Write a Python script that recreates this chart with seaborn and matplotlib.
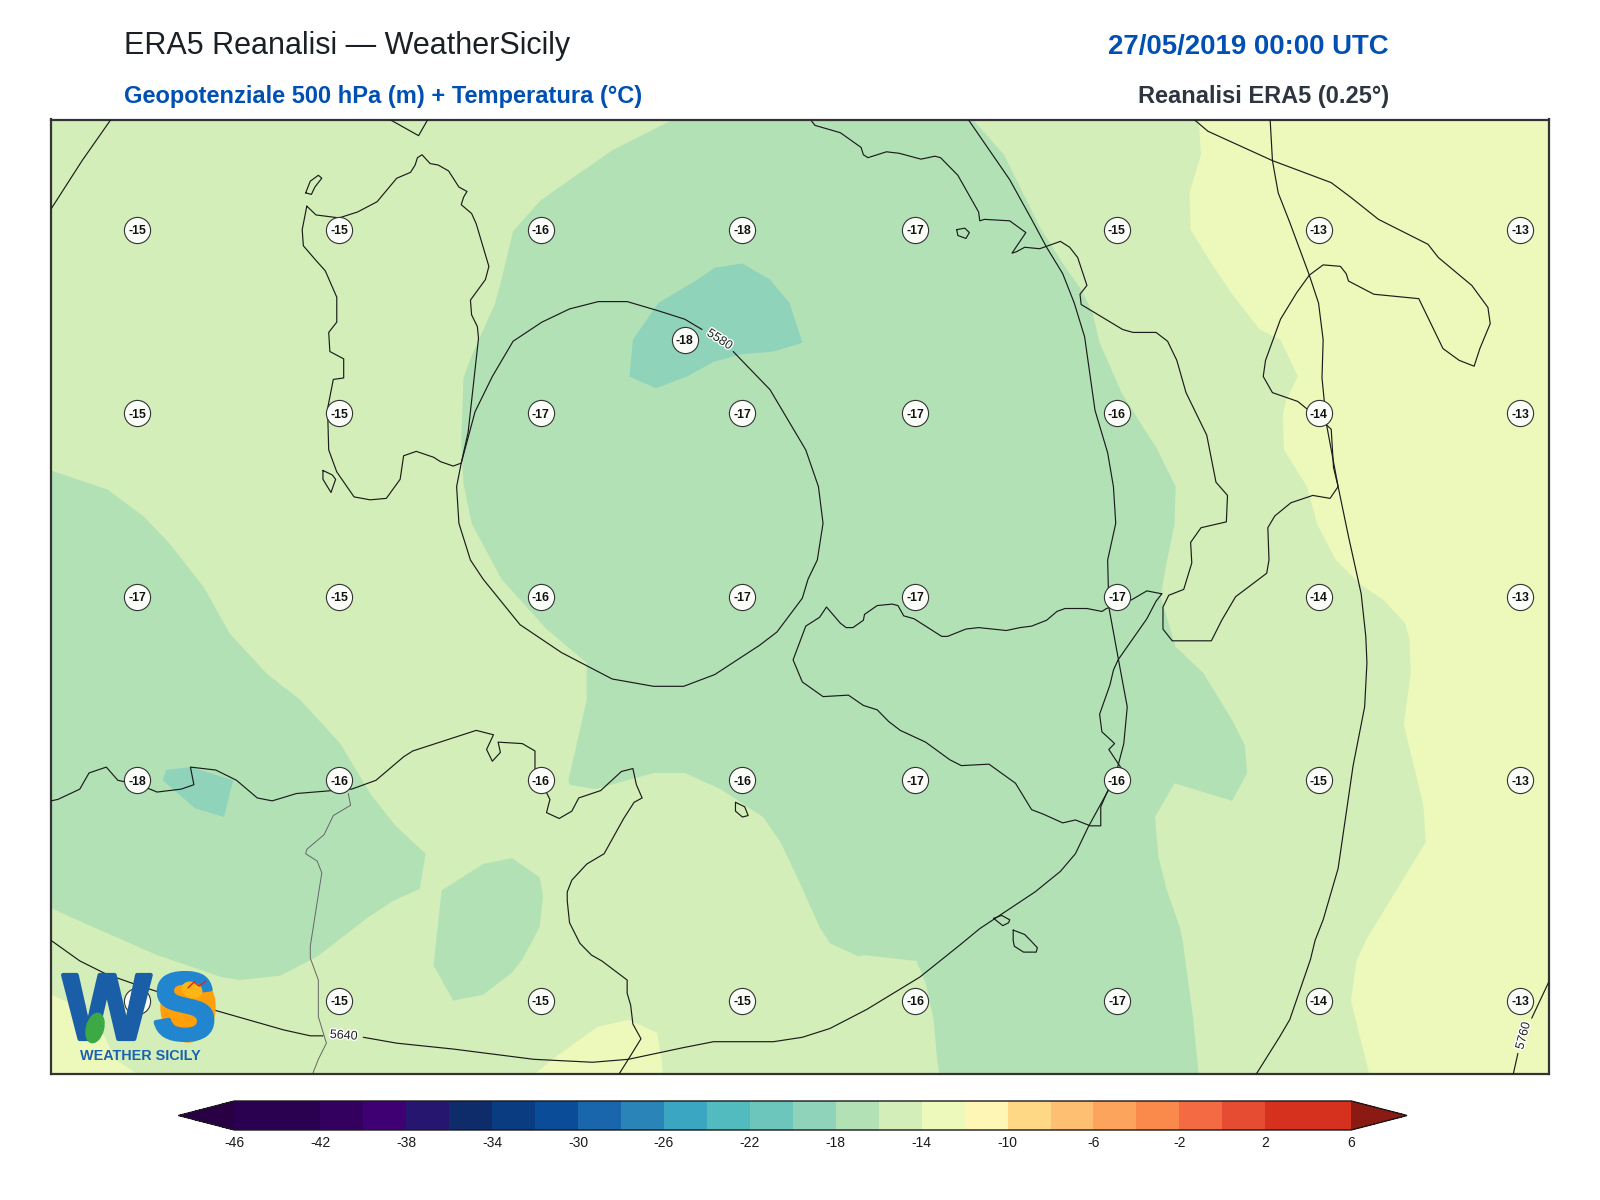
"""ERA5 500 hPa geopotential + temperature map over Sicily, rebuilt with seaborn."""
from __future__ import annotations

import matplotlib
matplotlib.use("Agg")
import matplotlib.patheffects as pe
import matplotlib.pyplot as plt
import pandas as pd
import seaborn as sns
from matplotlib.colorbar import ColorbarBase
from matplotlib.colors import BoundaryNorm, ListedColormap
from matplotlib.patches import Ellipse

# ───────────────────────── colour scale ─────────────────────
LEVELS = list(range(-46, 8, 2))
TICKS = list(range(-46, 10, 4))
BAND_COLORS = [
    "#2a0050", "#2a0050", "#330060", "#3f0073", "#271670", "#0e2c6a", "#0a3c82",
    "#0a4c98", "#1a66ac", "#2a84b8", "#3aa6c2", "#52bbc0", "#6cc6bc", "#8fd3bb",
    "#b2e1b6", "#d3eeb8", "#edf8bb", "#fef6b5", "#fed884", "#febf72", "#fda45c",
    "#fa894c", "#f46b43", "#e64c32", "#d6301f", "#d6301f",
]
UNDER_COLOR = "#2a0045"
OVER_COLOR = "#8b1a14"

# ───────────────────────── grid-point temperatures ──────────
POINT_LONS = [6.75, 8.5, 10.25, 12, 13.5, 15.25, 17, 18.75]
POINT_LATS = [40.75, 39.5, 38.25, 37, 35.5]
T_ROW_1 = [-15, -15, -16, -18, -17, -15, -13, -13]
T_ROW_2 = [-15, -15, -17, -17, -17, -16, -14, -13]
T_ROW_3 = [-17, -15, -16, -17, -17, -17, -14, -13]
T_ROW_4 = [-18, -16, -16, -16, -17, -16, -15, -13]
T_ROW_5 = [-15, -15, -15, -15, -16, -17, -14, -13]
EXTRA_POINT = (11.5, 40.0, -18)

# ───────────────────────── temperature bands (lon, lat) ─────
BAND_16_18_CENTRE = [
    (11.40, 41.5), (10.87, 41.29), (10.25, 40.95), (10.01, 40.74), (9.91, 40.41),
    (9.85, 40.24), (9.65, 39.89), (9.58, 39.74), (9.56, 39.30), (9.58, 39.02),
    (9.65, 38.75), (9.91, 38.37), (10.30, 38.03), (10.65, 37.80), (10.65, 37.55),
    (10.49, 37.0), (10.50, 36.97), (10.72, 36.94), (11.23, 37.05), (11.50, 37.05),
    (11.81, 36.94), (12.18, 36.75), (12.33, 36.58), (12.50, 36.30), (12.67, 36.0),
    (12.76, 35.89), (13.01, 35.80), (13.05, 35.81), (13.51, 35.77), (13.59, 35.62),
    (13.66, 35.37), (13.69, 35.10), (13.71, 35.0), (15.96, 35.0), (15.93, 35.23),
    (15.91, 35.39), (15.82, 35.91), (15.80, 35.99), (15.68, 36.26), (15.61, 36.48),
    (15.58, 36.75), (15.75, 36.98), (16.25, 36.86), (16.38, 37.05), (16.36, 37.24),
    (16.25, 37.41), (16.0, 37.73), (15.76, 37.91), (15.63, 38.25), (15.68, 38.48),
    (15.75, 38.74), (15.76, 39.0), (15.59, 39.27), (15.48, 39.40), (15.29, 39.64),
    (15.10, 39.98), (15.04, 40.18), (14.95, 40.33), (14.78, 40.52), (14.58, 40.77),
    (14.27, 41.26), (14.0, 41.5),
]
BAND_16_18_WEST = [
    (6.0, 39.11), (6.49, 38.98), (6.80, 38.80), (7.02, 38.62), (7.33, 38.31),
    (7.55, 38.0), (7.88, 37.72), (8.16, 37.55), (8.51, 37.25), (8.77, 36.91),
    (8.99, 36.69), (9.25, 36.50), (9.20, 36.26), (8.97, 36.18), (8.74, 36.06),
    (8.31, 35.80), (7.99, 35.67), (7.64, 35.64), (7.48, 35.66), (6.92, 35.81),
    (6.28, 36.03), (6.0, 36.13),
]
BAND_16_18_TUNISIA = [
    (9.39, 36.25), (9.75, 36.43), (10.0, 36.47), (10.24, 36.34), (10.27, 36.21),
    (10.24, 36.0), (10.09, 35.78), (10.0, 35.69), (9.75, 35.54), (9.49, 35.50),
    (9.32, 35.74),
]
BAND_18_20_NORTH = [
    (11.02, 39.75), (11.25, 39.67), (11.52, 39.75), (11.75, 39.85), (11.98, 39.90),
    (12.27, 39.92), (12.52, 39.98), (12.41, 40.25), (12.24, 40.41), (12.0, 40.52),
    (11.76, 40.49), (11.61, 40.41), (11.27, 40.25), (11.05, 40.0),
]
BAND_18_20_SOUTH = [
    (7.0, 37.07), (7.21, 37.09), (7.58, 37.0), (7.50, 36.75), (7.25, 36.81), (6.97, 37.0),
]
BAND_12_14_EAST = [
    (15.96, 41.5), (15.98, 41.26), (15.88, 41.0), (15.89, 40.75), (16.07, 40.52),
    (16.25, 40.31), (16.49, 40.07), (16.67, 40.0), (16.82, 39.75), (16.72, 39.59),
    (16.69, 39.49), (16.70, 39.25), (16.90, 39.0), (16.99, 38.74), (17.15, 38.50),
    (17.37, 38.33), (17.56, 38.23), (17.75, 38.07), (17.79, 37.96), (17.80, 37.73),
    (17.74, 37.38), (17.91, 36.83), (17.93, 36.58), (17.69, 36.27), (17.41, 35.91),
    (17.33, 35.77), (17.28, 35.50), (17.44, 35.0), (19.0, 35.0), (19.0, 41.5),
]
BAND_12_14_TUNISIA = [
    (10.20, 35.0), (10.35, 35.10), (10.74, 35.32), (11.01, 35.37), (11.26, 35.28),
    (11.30, 35.10), (11.31, 35.0),
]
BAND_12_14_CORNER = [
    (6.0, 35.54), (6.32, 35.43), (6.47, 35.25), (6.56, 35.10), (6.75, 35.0), (6.0, 35.0),
]

# ───────────────────────── coastlines (lon, lat) ────────────
CORSICA = [(8.94, 41.5), (9.19, 41.39), (9.27, 41.5)]
ASINARA = [(8.21, 41.0), (8.25, 41.08), (8.32, 41.12), (8.35, 41.10), (8.29, 41.04),
           (8.26, 40.99), (8.21, 41.0)]
SARDINIA = [
    (8.22, 40.91), (8.30, 40.85), (8.50, 40.83), (8.66, 40.87), (8.83, 40.94), (9.00, 41.10),
    (9.12, 41.14), (9.16, 41.19), (9.18, 41.24), (9.22, 41.26), (9.29, 41.20), (9.36, 41.19),
    (9.45, 41.15), (9.54, 41.04), (9.61, 41.01), (9.58, 40.97), (9.56, 40.92), (9.65, 40.86),
    (9.69, 40.79), (9.80, 40.50), (9.77, 40.41), (9.64, 40.27), (9.65, 40.17), (9.70, 40.09),
    (9.71, 40.01), (9.62, 39.37), (9.56, 39.16), (9.49, 39.14), (9.38, 39.17), (9.32, 39.20),
    (9.17, 39.24), (9.06, 39.21), (9.03, 39.05), (8.91, 38.92), (8.77, 38.91), (8.63, 38.93),
    (8.48, 39.10), (8.41, 39.25), (8.40, 39.53), (8.45, 39.73), (8.54, 39.74), (8.54, 39.87),
    (8.42, 39.92), (8.41, 40.05), (8.48, 40.12), (8.48, 40.29), (8.38, 40.47), (8.30, 40.54),
    (8.19, 40.64), (8.18, 40.75), (8.22, 40.91),
]
SANT_ANTIOCO = [(8.36, 39.11), (8.44, 39.08), (8.47, 39.05), (8.43, 38.96), (8.36, 39.05),
                (8.36, 39.11)]
ITALY = [
    (12.60, 41.49), (12.63, 41.46), (12.85, 41.41), (13.03, 41.31), (13.05, 41.26), (13.09, 41.24),
    (13.25, 41.28), (13.36, 41.27), (13.55, 41.23), (13.67, 41.25), (13.72, 41.24), (13.87, 41.12),
    (14.05, 40.87), (14.06, 40.81), (14.10, 40.82), (14.32, 40.81), (14.46, 40.73), (14.34, 40.59),
    (14.38, 40.60), (14.45, 40.63), (14.58, 40.62), (14.76, 40.67), (14.84, 40.63), (14.91, 40.56),
    (14.99, 40.37), (14.93, 40.31), (14.94, 40.24), (15.30, 40.07), (15.39, 40.05), (15.59, 40.05),
    (15.69, 39.99), (15.77, 39.86), (15.85, 39.64), (16.03, 39.35), (16.11, 39.03), (16.21, 38.94),
    (16.20, 38.76), (15.98, 38.72), (15.89, 38.62), (15.90, 38.48), (15.83, 38.30), (15.70, 38.26),
    (15.65, 38.18), (15.65, 38.03), (15.73, 37.95), (16.07, 37.95), (16.16, 38.09), (16.28, 38.25),
    (16.55, 38.41), (16.57, 38.50), (16.56, 38.72), (16.62, 38.80), (16.76, 38.89), (16.95, 38.94),
    (17.10, 38.92), (17.17, 39.00), (17.13, 39.13), (17.11, 39.39), (17.07, 39.42), (16.82, 39.58),
    (16.60, 39.64), (16.52, 39.75), (16.54, 39.86), (16.67, 40.14), (16.81, 40.32), (16.92, 40.44),
    (17.04, 40.51), (17.19, 40.50), (17.24, 40.45), (17.26, 40.40), (17.48, 40.31), (17.87, 40.28),
    (18.08, 39.94), (18.22, 39.86), (18.35, 39.82), (18.40, 39.94), (18.49, 40.11), (18.47, 40.22),
    (18.33, 40.37), (18.04, 40.56), (17.95, 40.65), (17.52, 40.82), (17.28, 40.97), (17.11, 41.07),
    (16.60, 41.22), (16.04, 41.42), (15.92, 41.5),
]
SICILY = [
    (15.64, 38.27), (15.51, 38.29), (15.38, 38.23), (15.16, 38.17), (15.12, 38.15), (14.99, 38.17),
    (14.80, 38.17), (14.73, 38.15), (14.64, 38.09), (14.51, 38.05), (14.41, 38.04), (14.29, 38.02),
    (14.05, 38.04), (13.94, 38.03), (13.78, 37.98), (13.73, 37.98), (13.49, 38.10), (13.40, 38.12),
    (13.35, 38.19), (13.30, 38.20), (13.17, 38.19), (13.06, 38.13), (13.05, 38.09), (12.96, 38.04),
    (12.90, 38.04), (12.85, 38.07), (12.73, 38.18), (12.67, 38.11), (12.55, 38.05), (12.44, 37.82),
    (12.52, 37.67), (12.70, 37.57), (12.92, 37.58), (13.05, 37.51), (13.17, 37.48), (13.27, 37.40),
    (13.37, 37.34), (13.59, 37.26), (13.80, 37.14), (13.90, 37.10), (14.14, 37.11), (14.37, 36.98),
    (14.51, 36.80), (14.61, 36.77), (14.78, 36.71), (14.89, 36.73), (15.02, 36.69), (15.11, 36.69),
    (15.11, 36.82), (15.16, 36.91), (15.29, 37.08), (15.18, 37.21), (15.23, 37.25), (15.19, 37.28),
    (15.12, 37.33), (15.10, 37.45), (15.19, 37.65), (15.22, 37.75), (15.26, 37.82), (15.51, 38.10),
    (15.59, 38.22), (15.64, 38.27),
]
ISCHIA = [(13.86, 40.75), (13.93, 40.76), (13.97, 40.73), (13.94, 40.69), (13.87, 40.71),
          (13.86, 40.75)]
PANTELLERIA = [(11.94, 36.85), (12.02, 36.82), (12.05, 36.76), (12.00, 36.75), (11.94, 36.79),
               (11.94, 36.85)]
GOZO = [(14.18, 36.06), (14.25, 36.08), (14.32, 36.05), (14.31, 36.03), (14.26, 36.01),
        (14.18, 36.06)]
MALTA = [(14.35, 35.98), (14.45, 35.95), (14.50, 35.91), (14.56, 35.86), (14.55, 35.83),
         (14.44, 35.83), (14.36, 35.87), (14.35, 35.91), (14.35, 35.98)]
NORTH_AFRICA = [
    (6.0, 36.86), (6.06, 36.87), (6.25, 36.94), (6.33, 37.05), (6.48, 37.09), (6.58, 37.00),
    (6.64, 36.99), (6.86, 36.94), (6.92, 36.92), (7.13, 36.94), (7.24, 36.97), (7.21, 37.09),
    (7.43, 37.07), (7.61, 37.00), (7.79, 36.88), (7.92, 36.86), (8.13, 36.91), (8.44, 36.93),
    (8.61, 36.94), (8.82, 37.00), (9.06, 37.16), (9.14, 37.20), (9.69, 37.34), (9.84, 37.31),
    (9.78, 37.21), (9.83, 37.13), (9.90, 37.19), (9.88, 37.26), (10.09, 37.25), (10.20, 37.20),
    (10.20, 37.07), (10.33, 36.87), (10.30, 36.78), (10.41, 36.74), (10.52, 36.79), (10.58, 36.88),
    (10.77, 36.93), (10.95, 37.06), (11.05, 37.08), (11.08, 36.97), (11.13, 36.88), (11.06, 36.85),
    (10.97, 36.74), (10.80, 36.50), (10.65, 36.43), (10.52, 36.32), (10.48, 36.24), (10.48, 36.18),
    (10.50, 36.03), (10.59, 35.89), (10.69, 35.81), (10.78, 35.77), (11.00, 35.64), (11.00, 35.55),
    (11.03, 35.47), (11.05, 35.34), (11.12, 35.24), (11.01, 35.10), (10.93, 35.0),
]
BORDER = [
    (8.58, 36.91), (8.60, 36.83), (8.45, 36.76), (8.37, 36.63), (8.22, 36.53), (8.21, 36.50),
    (8.31, 36.45), (8.35, 36.37), (8.25, 35.87), (8.25, 35.79), (8.32, 35.64), (8.32, 35.39),
    (8.39, 35.21), (8.32, 35.10), (8.27, 35.0),
]

# ───────────────────────── geopotential contours (lon, lat) ─
Z5580 = [
    (11.92, 39.92), (12.24, 39.66), (12.55, 39.25), (12.66, 39.00), (12.70, 38.75), (12.65, 38.50),
    (12.57, 38.37), (12.52, 38.24), (12.30, 38.01), (12.15, 37.92), (11.76, 37.72), (11.49, 37.64),
    (11.23, 37.64), (10.87, 37.69), (10.43, 37.87), (10.07, 38.06), (9.75, 38.37), (9.64, 38.50),
    (9.54, 38.75), (9.52, 39.00), (9.56, 39.16), (9.68, 39.51), (9.83, 39.75), (10.01, 39.99),
    (10.26, 40.12), (10.50, 40.21), (10.75, 40.26), (11.00, 40.26), (11.26, 40.20), (11.50, 40.14),
    (11.65, 40.07),
]
Z5640_WEST = [
    (6.0, 35.91), (6.25, 35.77), (6.48, 35.68), (6.77, 35.60), (7.44, 35.43), (8.02, 35.30),
    (8.25, 35.26), (8.36, 35.26),
]
Z5640_EAST = [
    (8.71, 35.25), (9.00, 35.21), (9.49, 35.17), (10.19, 35.10), (10.70, 35.08), (11.01, 35.10),
    (11.49, 35.18), (11.75, 35.22), (12.27, 35.22), (12.52, 35.25), (12.76, 35.31), (13.08, 35.44),
    (13.54, 35.66), (13.89, 35.88), (14.06, 35.99), (14.54, 36.24), (14.76, 36.38), (14.89, 36.50),
    (15.00, 36.68), (15.16, 36.91), (15.25, 37.07), (15.31, 37.25), (15.34, 37.50), (15.29, 37.71),
    (15.18, 38.18), (15.17, 38.50), (15.24, 38.75), (15.22, 39.00), (15.17, 39.23), (15.06, 39.52),
    (14.97, 40.02), (14.88, 40.25), (14.78, 40.45), (14.64, 40.63), (14.51, 40.82), (14.32, 41.09),
    (13.96, 41.5),
]
Z5640_NW = [(6.52, 41.5), (6.27, 41.22), (6.0, 40.89)]
Z5700 = [
    (16.58, 41.5), (16.60, 41.22), (16.65, 41.0), (16.75, 40.80), (16.92, 40.44), (17.00, 40.25),
    (17.04, 40.00), (17.03, 39.74), (17.07, 39.42), (17.17, 39.00), (17.26, 38.66), (17.37, 38.27),
    (17.41, 37.98), (17.42, 37.80), (17.40, 37.50), (17.30, 37.10), (17.17, 36.40), (17.04, 36.05),
    (16.97, 35.91), (16.93, 35.78), (16.75, 35.37), (16.66, 35.25), (16.46, 35.0),
]
Z5760_UPPER = [(19.0, 35.63), (18.85, 35.38)]
Z5760_LOWER = [(18.73, 35.14), (18.69, 35.0)]

CONTOUR_LABELS = [("5580", 11.80, 40.0, -33), ("5640", 8.54, 35.26, -4), ("5760", 18.78, 35.26, 75)]

# text
TITLE_LEFT = "ERA5 Reanalisi — WeatherSicily"
TITLE_RIGHT = "27/05/2019 00:00 UTC"
SUBTITLE_LEFT = "Geopotenziale 500 hPa (m) + Temperatura (°C)"
SUBTITLE_RIGHT = "Reanalisi ERA5 (0.25°)"
BLUE = "#0050b4"


def _band_color(low: int) -> str:
    return BAND_COLORS[LEVELS.index(low)]


def _lines_frame(paths: list[list[tuple[float, float]]]) -> pd.DataFrame:
    rows = []
    for seg, path in enumerate(paths):
        rows += [{"seg": seg, "lon": lon, "lat": lat} for lon, lat in path]
    return pd.DataFrame(rows)


def _draw_lines(ax, paths, color, lw, zorder) -> None:
    sns.lineplot(
        data=_lines_frame(paths), x="lon", y="lat", units="seg", estimator=None,
        sort=False, color=color, linewidth=lw, zorder=zorder, ax=ax, legend=False,
    )


def _points_frame() -> pd.DataFrame:
    rows = []
    for lat, temps in zip(POINT_LATS, [T_ROW_1, T_ROW_2, T_ROW_3, T_ROW_4, T_ROW_5]):
        rows += [{"lon": lon, "lat": lat, "t": t} for lon, t in zip(POINT_LONS, temps)]
    rows.append({"lon": EXTRA_POINT[0], "lat": EXTRA_POINT[1], "t": EXTRA_POINT[2]})
    return pd.DataFrame(rows)


def _draw_logo(ov) -> None:
    """Approximate Weather Sicily badge, bottom-left of the map."""
    ov.add_patch(Ellipse((188, 1007), 54, 70, color="#ff9f0a", zorder=1))
    ov.text(153, 1039, "S", fontsize=68, fontweight="bold", color="#2185cf", zorder=2,
            path_effects=[pe.withStroke(linewidth=3, foreground="#2185cf")])
    ov.text(63, 1039, "W", fontsize=67, fontweight="bold", color="#1a5ea8", zorder=3,
            path_effects=[pe.withStroke(linewidth=3, foreground="#1a5ea8")])
    ov.add_patch(Ellipse((95, 1028), 17, 30, angle=15, color="#3da945", zorder=4))
    ov.add_patch(Ellipse((192, 990), 20, 15, angle=20, color="#ffb514", zorder=4))
    ov.plot([188, 194, 199, 206], [988, 982, 986, 981], color="#d8262c", lw=1, zorder=5)
    ov.text(140, 1060, "WEATHER SICILY", fontsize=10.4, fontweight="bold",
            color="#1a62b0", ha="center", zorder=3)


def main() -> None:
    sns.set_theme(style="white")
    plt.rcParams["font.family"] = ["Liberation Sans", "DejaVu Sans"]
    plt.rcParams["axes.unicode_minus"] = False

    fig = plt.figure(figsize=(16, 12), dpi=100)
    ax = fig.add_axes([51 / 1600, 1 - 1074 / 1200, 1498 / 1600, 954.5 / 1200])
    ax.set_facecolor(_band_color(-16))

    # temperature bands
    for low, polys in [
        (-18, [BAND_16_18_CENTRE, BAND_16_18_WEST, BAND_16_18_TUNISIA]),
        (-20, [BAND_18_20_NORTH, BAND_18_20_SOUTH]),
        (-14, [BAND_12_14_EAST, BAND_12_14_TUNISIA, BAND_12_14_CORNER]),
    ]:
        for poly in polys:
            lons, lats = zip(*poly)
            ax.fill(lons, lats, color=_band_color(low), lw=0, zorder=1)

    # coast, border, isohypses
    _draw_lines(ax, [BORDER], "#666666", 0.7, 2)
    _draw_lines(
        ax,
        [CORSICA, ASINARA, SARDINIA, SANT_ANTIOCO, ITALY, SICILY, ISCHIA, PANTELLERIA,
         GOZO, MALTA, NORTH_AFRICA],
        "#1c1c1c", 0.85, 3,
    )
    _draw_lines(
        ax,
        [Z5580, Z5640_WEST, Z5640_EAST, Z5640_NW, Z5700, Z5760_UPPER, Z5760_LOWER],
        "#1c1c1c", 0.85, 3,
    )
    for text, lon, lat, rot in CONTOUR_LABELS:
        ax.text(lon, lat, text, fontsize=9, color="#222222", rotation=rot, ha="center",
                va="center", rotation_mode="anchor", zorder=4,
                path_effects=[pe.withStroke(linewidth=2, foreground="white")])

    # grid-point temperatures
    points = _points_frame()
    sns.scatterplot(
        data=points, x="lon", y="lat", s=355, color="#fbfdf9", edgecolor="#333333",
        linewidth=0.8, zorder=5, ax=ax, legend=False, clip_on=False,
    )
    for row in points.itertuples():
        ax.text(row.lon, row.lat, f"{row.t}", fontsize=8.8, fontweight="bold", color="#111111",
                ha="center", va="center_baseline", zorder=6)

    ax.set_xlim(6, 19)
    ax.set_ylim(35, 41.5)
    ax.set(xlabel="", ylabel="", xticks=[], yticks=[])
    for spine in ax.spines.values():
        spine.set_visible(True)
        spine.set_color("#333333")
        spine.set_linewidth(1.6)

    # colour bar: the axes spans tip to tip, the extensions are carved out of it
    cax = fig.add_axes([178.6 / 1600, 1 - 1130 / 1200, 1228.4 / 1600, 29 / 1200])
    cmap = ListedColormap(BAND_COLORS)
    cmap.set_under(UNDER_COLOR)
    cmap.set_over(OVER_COLOR)
    cbar = ColorbarBase(
        cax, cmap=cmap, norm=BoundaryNorm(LEVELS, cmap.N), orientation="horizontal",
        extend="both", extendfrac=0.05, spacing="proportional", ticks=TICKS,
    )
    cbar.ax.set_xticklabels([str(t) for t in TICKS])
    cbar.minorticks_off()
    cbar.ax.tick_params(which="both", length=0, pad=4, labelsize=10, colors="#1a1a1a")
    cbar.outline.set_edgecolor("#1a1a1a")
    cbar.outline.set_linewidth(1.0)
    cbar.dividers.set_visible(False)

    # titles and logo live on a pixel-scaled overlay
    ov = fig.add_axes([0, 0, 1, 1], zorder=10)
    ov.set_xlim(0, 1600)
    ov.set_ylim(1200, 0)
    ov.axis("off")
    ov.patch.set_alpha(0)
    ov.text(124.5, 54, TITLE_LEFT, fontsize=22, color="#1a2026")
    ov.text(1389, 54, TITLE_RIGHT, fontsize=19.9, fontweight="bold", color=BLUE, ha="right")
    ov.text(124.5, 103, SUBTITLE_LEFT, fontsize=17, fontweight="bold", color=BLUE)
    ov.text(1389, 103, SUBTITLE_RIGHT, fontsize=17, fontweight="bold", color="#2d3640", ha="right")
    _draw_logo(ov)

    fig.savefig("out.png", dpi=100)
    plt.close(fig)


if __name__ == "__main__":
    main()
